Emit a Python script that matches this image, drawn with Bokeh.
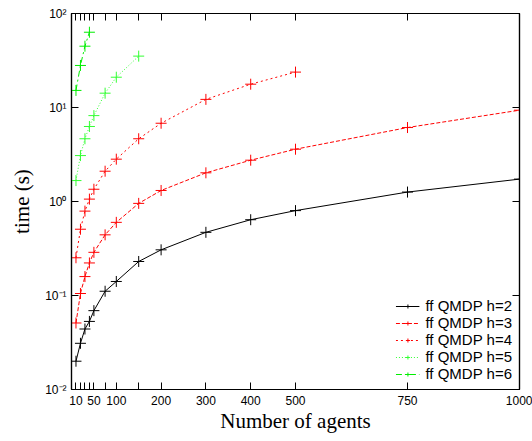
from bokeh.plotting import figure
from bokeh.models import (FixedTicker, CustomJSTickFormatter, LinearAxis, LogAxis,
                          Range1d, Legend, LegendItem)
from bokeh.embed import file_html
from bokeh.resources import INLINE

agents = [10, 20, 30, 40, 50, 75, 100, 150, 200, 300, 400, 500, 750, 1000]
h2 = [0.020, 0.031, 0.044, 0.053, 0.069, 0.111, 0.141, 0.23, 0.306, 0.47, 0.64, 0.80, 1.26, 1.73]
h3 = [0.051, 0.105, 0.159, 0.222, 0.288, 0.442, 0.60, 0.955, 1.31, 2.02, 2.75, 3.60, 6.12, 9.36]
agents4 = [10, 20, 30, 40, 50, 75, 100, 150, 200, 300, 400, 500]
h4 = [0.252, 0.507, 0.79, 1.06, 1.35, 2.10, 2.82, 4.65, 6.8, 12.2, 17.7, 23.8]
agents5 = [10, 20, 30, 40, 50, 75, 100, 150]
h5 = [1.67, 3.08, 4.65, 6.28, 8.2, 14.2, 21.0, 35.2]
agents6 = [10, 20, 30, 40]
h6 = [15.2, 28.0, 44.9, 63.2]

x_ticks = agents
x_labelled = [10, 50, 100, 200, 300, 400, 500, 750, 1000]
y_ticks = [0.01, 0.1, 1, 10, 100]

series = [
    ("ff QMDP h=2", agents, h2, "#000000", "solid", 1.0),
    ("ff QMDP h=3", agents, h3, "#ff0000", "4 2", 1.0),
    ("ff QMDP h=4", agents4, h4, "#ff0000", "2 3", 1.0),
    ("ff QMDP h=5", agents5, h5, "#33ff33", "1 2", 1.0),
    ("ff QMDP h=6", agents6, h6, "#00ee00", "6 3 2 3", 1.0),
]

p = figure(width=532, height=441, x_range=Range1d(0, 1000), y_range=Range1d(0.01, 100),
           y_axis_type="log", output_backend="svg", toolbar_location=None,
           min_border_left=71, min_border_right=13, min_border_top=13, min_border_bottom=52,
           background_fill_color="white", border_fill_color="white")
p.grid.visible = False
p.outline_line_color = "#000000"
p.outline_line_width = 1.2

xfmt = CustomJSTickFormatter(args=dict(lab=x_labelled),
                             code="return lab.includes(tick) ? String(tick) : '';")
yfmt = CustomJSTickFormatter(code="""
const e = Math.round(Math.log10(tick));
const sup = {'-':'\\u207b','0':'\\u2070','1':'\\u00b9','2':'\\u00b2','3':'\\u00b3',
             '4':'\\u2074','5':'\\u2075','6':'\\u2076','7':'\\u2077','8':'\\u2078','9':'\\u2079'};
return '10' + String(e).split('').map(c => sup[c]).join('');
""")
blank = CustomJSTickFormatter(code="return '';")

xa = p.xaxis[0]
xa.ticker = FixedTicker(ticks=x_ticks, minor_ticks=[])
xa.formatter = xfmt
xa.axis_label = "Number of agents"
ya = p.yaxis[0]
ya.ticker = FixedTicker(ticks=y_ticks, minor_ticks=[])
ya.formatter = yfmt
ya.axis_label = "time (s)"

top = LinearAxis(ticker=FixedTicker(ticks=x_ticks, minor_ticks=[]), formatter=blank)
right = LogAxis(ticker=FixedTicker(ticks=y_ticks, minor_ticks=[]), formatter=blank)
p.add_layout(top, "above")
p.add_layout(right, "right")

for ax in [xa, ya, top, right]:
    ax.major_tick_in = 7
    ax.major_tick_out = 0
    ax.minor_tick_in = 0
    ax.minor_tick_out = 0
    ax.axis_line_color = "#000000"
    ax.axis_line_width = 1.2
    ax.major_tick_line_color = "#000000"
    ax.major_label_text_font = "Liberation Sans"
    ax.major_label_text_font_size = "12px"
    ax.major_label_text_color = "#000000"
    ax.axis_label_text_font = "Liberation Serif"
    ax.axis_label_text_font_size = "21px"
    ax.axis_label_text_font_style = "normal"
    ax.axis_label_text_color = "#000000"
for ax in [top, right]:
    ax.major_label_text_font_size = "0px"
    ax.major_label_standoff = 0
xa.major_label_standoff = 6
xa.axis_label_standoff = 1
ya.major_label_standoff = 5
ya.axis_label_standoff = 8

items = []
for name, xs, ys, col, dash, lw in series:
    r1 = p.line(xs, ys, line_color=col, line_dash=dash, line_width=lw)
    r2 = p.scatter(xs, ys, marker="cross", size=11, line_color=col, line_width=1)
    items.append(LegendItem(label=name, renderers=[r1, r2]))

leg = Legend(items=items, location="bottom_right", background_fill_alpha=0,
             border_line_alpha=0, label_text_font="Liberation Sans",
             label_text_font_size="15px", label_text_color="#000000",
             label_text_line_height=0.85,
             glyph_width=24, glyph_height=10, label_height=10, spacing=0,
             margin=3, padding=4, label_standoff=6)
p.add_layout(leg, "center")

open("out.html", "w", encoding="utf-8").write(file_html(p, INLINE))
